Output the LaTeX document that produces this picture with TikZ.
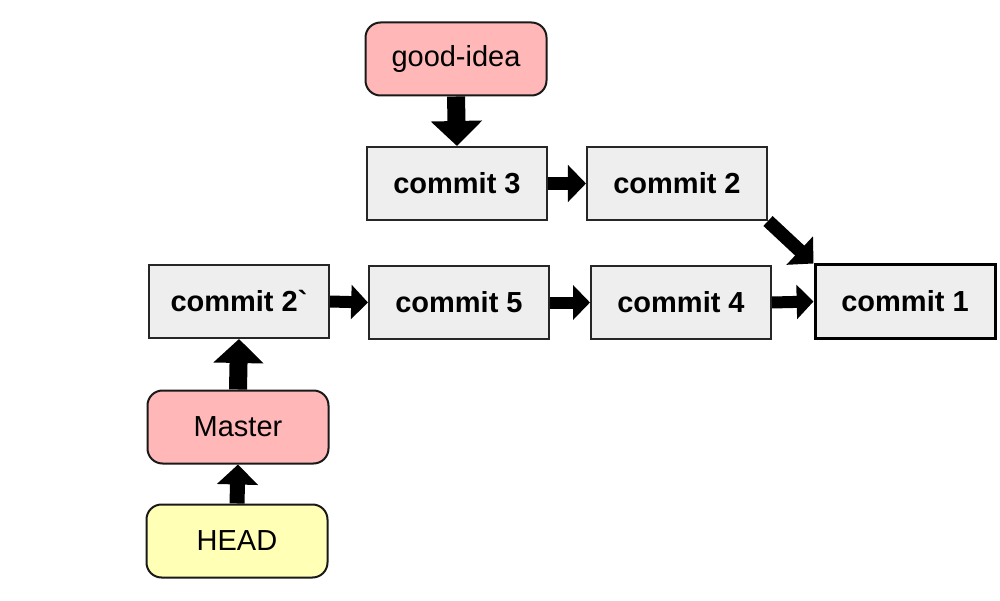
\documentclass[tikz,border=0pt]{standalone}
\usepackage{fontspec}
\setmainfont{Liberation Sans}[Ligatures=TeXOff]
\usetikzlibrary{arrows.meta}
\definecolor{commitgray}{HTML}{EEEEEE}
\definecolor{branchpink}{HTML}{FFB7B7}
\definecolor{headyellow}{HTML}{FFFFB5}
\begin{document}
\begin{tikzpicture}[
    commitbox/.style={draw=black!85, line width=0.040cm, fill=commitgray,
      minimum width=3.600cm, minimum height=1.460cm, inner sep=0pt,
      font=\fontsize{16.5}{20}\selectfont\bfseries},
    branchbox/.style={draw=black!90, line width=0.040cm, rounded corners=0.300cm,
      minimum width=3.620cm, minimum height=1.460cm, inner sep=0pt,
      font=\fontsize{16.5}{20}\selectfont},
    bigarrow/.style={line width=#1, -{Triangle[width=2.8*#1, length=1.4*#1]}},
    bigarrow/.default=0.240cm
  ]
            \useasboundingbox (0.000000,0.000000) rectangle (20.000000,12.000000);
            
            % Branch label good-idea
            \node [branchbox, fill=branchpink] (goodidea) at (9.120000,10.820000) {good-idea};%
            
            % Commits of the upper line
            \node [commitbox] (cthree) at (9.140000,8.330000) {commit 3};%
            \node [commitbox] (ctwo) at (13.540000,8.330000) {commit 2};%
            
            % Commits of the lower line
            \node [commitbox] (ctwoprime) at (4.780000,5.970000) {commit 2`};%
            \node [commitbox] (cfive) at (9.180000,5.950000) {commit 5};%
            \node [commitbox] (cfour) at (13.620000,5.950000) {commit 4};%
            \node [commitbox, draw=black, line width=0.060cm] (cone) at (18.100000,5.970000) {commit 1};%
            
            % Branch label Master and HEAD
            \node [branchbox, fill=branchpink] (master) at (4.760000,3.460000) {Master};%
            \node [branchbox, fill=headyellow] (head) at (4.740000,1.180000) {HEAD};%
            
            % Pointers of the labels
            \draw [line width=0.360cm, -{Triangle[width=1.000cm, length=0.500cm]}] (goodidea.south) -- (cthree.north);%
            \draw [line width=0.360cm, -{Triangle[width=0.980cm, length=0.480cm]}] (master.north) -- (ctwoprime.south);%
            \draw [line width=0.300cm, -{Triangle[width=0.800cm, length=0.400cm]}] (head.north) -- (master.south);%
            
            % Parent links between commits
            \draw [bigarrow=0.260cm] (cthree.east) -- (ctwo.west);%
            \draw [bigarrow] (ctwoprime.east) -- (cfive.west);%
            \draw [bigarrow] (cfive.east) -- (cfour.west);%
            \draw [bigarrow] (cfour.east) -- (cone.west);%
            \draw [bigarrow=0.270cm] (ctwo.south east) -- (cone.north west);%
        \end{tikzpicture}
\end{document}
